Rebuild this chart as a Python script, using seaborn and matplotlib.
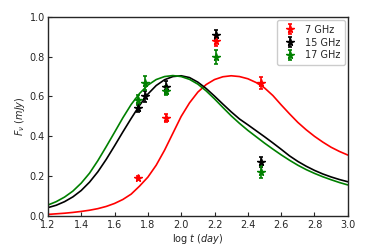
import numpy as np
import pandas as pd
import seaborn as sns
import matplotlib
matplotlib.use("Agg")
import matplotlib.pyplot as plt

# model curves (log t, flux)
curve_x = [1.20, 1.25, 1.30, 1.35, 1.40, 1.45, 1.50, 1.55, 1.60, 1.65, 1.70,
           1.75, 1.80, 1.85, 1.90, 1.95, 2.00, 2.05, 2.10, 2.15, 2.20, 2.25,
           2.30, 2.35, 2.40, 2.45, 2.50, 2.55, 2.60, 2.65, 2.70, 2.75, 2.80,
           2.85, 2.90, 2.95, 3.00]
curve_7 = [0.008, 0.011, 0.014, 0.018, 0.023, 0.029, 0.037, 0.048, 0.063, 0.083,
           0.110, 0.150, 0.195, 0.255, 0.330, 0.415, 0.500, 0.568, 0.622, 0.660,
           0.685, 0.699, 0.704, 0.700, 0.689, 0.670, 0.643, 0.605, 0.558, 0.513,
           0.470, 0.433, 0.400, 0.371, 0.345, 0.324, 0.306]
curve_15 = [0.042, 0.054, 0.072, 0.096, 0.128, 0.170, 0.222, 0.284, 0.352, 0.422,
            0.490, 0.555, 0.612, 0.655, 0.684, 0.700, 0.704, 0.695, 0.672, 0.640,
            0.602, 0.562, 0.523, 0.487, 0.458, 0.428, 0.398, 0.367, 0.335, 0.302,
            0.274, 0.250, 0.229, 0.211, 0.196, 0.183, 0.172]
curve_17 = [0.055, 0.072, 0.095, 0.125, 0.165, 0.215, 0.278, 0.348, 0.420, 0.493,
            0.560, 0.615, 0.657, 0.685, 0.700, 0.705, 0.700, 0.686, 0.662, 0.628,
            0.588, 0.545, 0.503, 0.465, 0.430, 0.398, 0.366, 0.336, 0.307, 0.280,
            0.255, 0.233, 0.214, 0.197, 0.182, 0.168, 0.156]

# observations
x_7 = [1.74, 1.91, 2.21, 2.48]
y_7 = [0.19, 0.49, 0.88, 0.67]
e_7 = [0.01, 0.02, 0.025, 0.03]
x_15 = [1.74, 1.78, 1.91, 2.21, 2.48]
y_15 = [0.54, 0.60, 0.65, 0.91, 0.27]
e_15 = [0.02, 0.03, 0.03, 0.025, 0.025]
x_17 = [1.74, 1.78, 1.91, 2.21, 2.48]
y_17 = [0.58, 0.67, 0.63, 0.80, 0.22]
e_17 = [0.025, 0.035, 0.025, 0.035, 0.03]

sns.set_style("ticks")
plt.rcParams['font.family'] = ['DejaVu Sans']

fig = plt.figure(figsize=(3.74, 2.49), dpi=100)
ax = fig.add_axes([0.128, 0.1325, 0.802, 0.8])

df = pd.DataFrame({'x': curve_x * 3,
                   'y': curve_7 + curve_15 + curve_17,
                   'band': ['7'] * len(curve_x) + ['15'] * len(curve_x) + ['17'] * len(curve_x)})
sns.lineplot(data=df, x='x', y='y', hue='band', palette={'7': 'red', '15': 'black', '17': 'green'},
             linewidth=1.2, legend=False, ax=ax)

for xs, ys, es, c, lab in [(x_7, y_7, e_7, 'red', '7 GHz'),
                           (x_15, y_15, e_15, 'black', '15 GHz'),
                           (x_17, y_17, e_17, 'green', '17 GHz')]:
    ax.errorbar(xs, ys, yerr=es, fmt='*', color=c, ms=5.5, capsize=1.5,
                elinewidth=1.2, capthick=1.2, label=lab)

ax.set_xlim(1.2, 3.0)
ax.set_ylim(0.0, 1.0)
ax.set_xticks(np.arange(1.2, 3.01, 0.2))
ax.set_yticks(np.arange(0, 1.01, 0.2))
ax.tick_params(direction='in', labelsize=7, length=3, width=0.8, pad=2)
ax.tick_params(axis='x', pad=3)
ax.set_xlabel('log $t$ ($day$)', fontsize=7, labelpad=1)
ax.set_ylabel(r'$F_\nu$ ($mJy$)', fontsize=7, labelpad=2)
for s in ax.spines.values():
    s.set_visible(True)
    s.set_linewidth(1.0)
ax.legend(loc='upper right', fontsize=7, handlelength=1.5, borderpad=0.5, labelspacing=0.3,
          borderaxespad=0.3, framealpha=1, edgecolor='#cccccc')

fig.savefig('out.png', dpi=100)
